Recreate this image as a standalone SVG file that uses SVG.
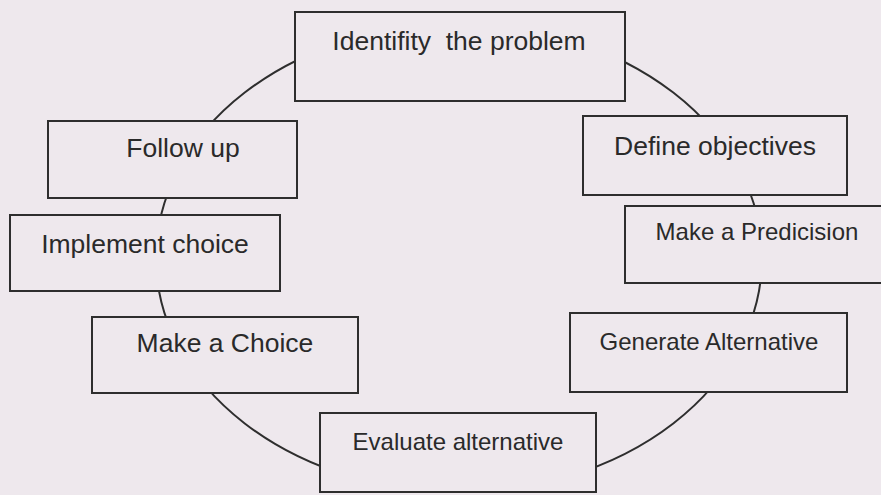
<svg xmlns="http://www.w3.org/2000/svg" width="881" height="495" viewBox="0 0 881 495">
<style>
.bg{fill:#eee8ed}
.box{fill:#eee8ed;stroke:#2e2e2e;stroke-width:2}
.lbl{font-family:"Liberation Sans",Arial,sans-serif;fill:#2a2a2a;text-anchor:middle;white-space:pre}
.lg{font-size:26.5px}
.sm{font-size:24px}
.conn{fill:none;stroke:#2e2e2e;stroke-width:2}
</style>
<rect class="bg" x="0" y="0" width="881" height="495"/>
<g id="connectors">
<ellipse class="conn" cx="459" cy="258" rx="303" ry="234"/>
</g>
<g id="identify">
<rect class="box" x="295" y="12" width="330" height="89"/>
<text class="lbl lg" x="459" y="50" xml:space="preserve">Identifity  the problem</text>
</g>
<g id="define">
<rect class="box" x="583" y="116" width="264" height="79"/>
<text class="lbl lg" x="715" y="155">Define objectives</text>
</g>
<g id="predicision">
<rect class="box" x="625" y="206" width="262" height="77"/>
<text class="lbl sm" x="757" y="240">Make a Predicision</text>
</g>
<g id="generate">
<rect class="box" x="570" y="313" width="277" height="79"/>
<text class="lbl sm" x="709" y="350">Generate Alternative</text>
</g>
<g id="evaluate">
<rect class="box" x="320" y="413" width="276" height="79"/>
<text class="lbl sm" x="458" y="450">Evaluate alternative</text>
</g>
<g id="choice">
<rect class="box" x="92" y="317" width="266" height="76"/>
<text class="lbl lg" x="225" y="352">Make a Choice</text>
</g>
<g id="implement">
<rect class="box" x="10" y="215" width="270" height="76"/>
<text class="lbl lg" x="145" y="253">Implement choice</text>
</g>
<g id="followup">
<rect class="box" x="48" y="121" width="249" height="77"/>
<text class="lbl lg" x="183" y="157">Follow up</text>
</g>
</svg>
